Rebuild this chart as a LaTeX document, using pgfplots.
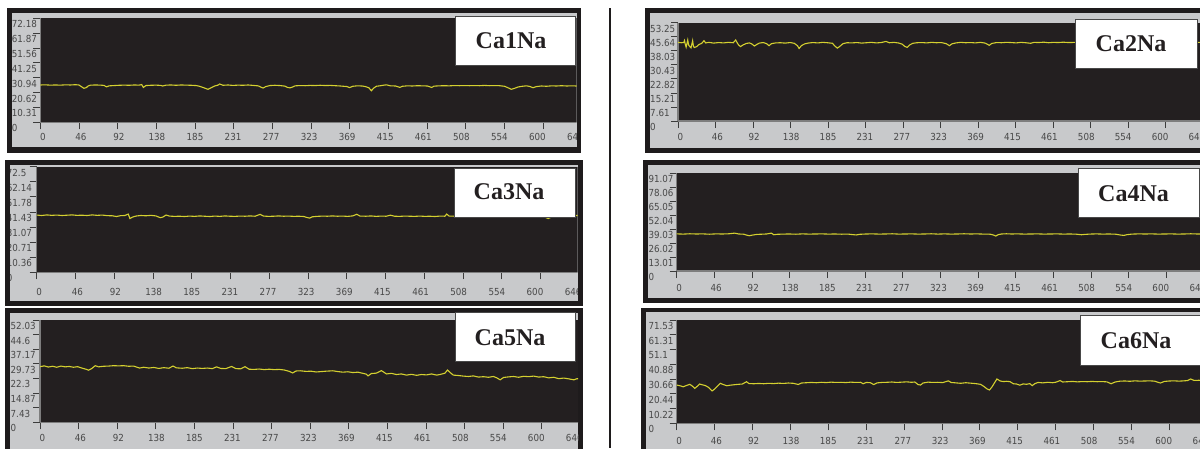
\documentclass[border=0pt]{standalone}
\usepackage{pgfplots}
\pgfplotsset{compat=1.18}
\usepackage{fontspec}
\newfontfamily\tickfont{DejaVu Sans Condensed}
\newfontfamily\labfont{Liberation Serif}
\definecolor{framec}{RGB}{30,27,28}
\definecolor{panelgray}{RGB}{200,201,203}
\definecolor{plotbg}{RGB}{35,31,32}
\definecolor{ylw}{RGB}{212,208,48}
\definecolor{labc}{RGB}{72,72,72}
\definecolor{tickc}{RGB}{60,60,60}
\definecolor{axgray}{RGB}{125,125,125}
\pgfplotsset{
  panel/.style={
    scale only axis, anchor=south west,
    xmin=0, xmax=660, ymin=0,
    axis x line=bottom, axis y line=left,
    axis line style={-, draw=axgray, line width=1.2pt},
    axis background/.style={fill=plotbg},
    tick style={draw=tickc, line width=0.8pt},
    tick align=outside, major tick length=7pt,
    xtick={0,46.14,92.29,138.43,184.57,230.71,276.86,323,369.14,415.29,461.43,507.57,553.71,599.86,646},
    xticklabels={{},{},{},{},{},{},{},{},{},{},{},{},{},{},{}},
    extra x ticks={3,48.4,93.8,139.2,184.6,230,275.4,320.8,366.2,411.6,457,502.4,547.8,593.2,638.6},
    extra x tick labels={0,46,92,138,185,231,277,323,369,415,461,508,554,600,646},
    extra x tick style={major tick length=0pt},
    xticklabel style={font=\tickfont\fontsize{9.7}{10}\selectfont, text=labc, anchor=north, inner sep=0pt},
    yticklabel style={font=\tickfont\fontsize{9.7}{10}\selectfont, text=labc, anchor=west, inner sep=0pt, yshift=-6pt},
  },
  sig/.style={draw=ylw, line width=1.1pt, mark=none},
}
\newcommand{\frameit}[8]{%
  \fill[framec] (#1pt,-#2pt) rectangle (#3pt,-#4pt);
  \fill[panelgray] (#5pt,-#6pt) rectangle (#7pt,-#8pt);}
\newcommand{\labbox}[7]{%
  \draw[draw=labc, fill=white, line width=0.8pt] (#1pt,-#2pt) rectangle (#3pt,-#4pt);
  \node[font=\labfont\bfseries\fontsize{24}{26}\selectfont, text=plotbg, inner sep=0pt] at (#5pt,-#6pt) {#7};}
\begin{document}
\begin{tikzpicture}
\path[use as bounding box] (0pt,0pt) rectangle (1200pt,-448pt);
\clip (0pt,0pt) rectangle (1200pt,-448pt);
% separator
\fill[framec] (609pt,-8pt) rectangle (611pt,-448pt);
% ---------------- Panel 1 ----------------
\frameit{7}{8}{580.5}{152.5}{12}{13.3}{576.7}{147.3}
\begin{scope}
\clip (12pt,-13.3pt) rectangle (576.7pt,-147.3pt);
\begin{axis}[panel, at={(40.3pt,-122.3pt)}, width=553.1pt, height=104pt,
  ymax=72.18, ytick={0,10.31,20.62,30.94,41.25,51.56,61.87,72.18},
  yticklabels={0,10.31,20.62,30.94,41.25,51.56,61.87,72.18},
  yticklabel style={xshift=-21.6pt}, xticklabel style={yshift=-11.2pt}]
\addplot[sig] coordinates {(0,25.9)(6,26.0)(12,25.8)(18,25.9)(24,25.8)(30,26.0)(36,25.9)(42,26.1)(46,25.9)(49,24.8)(52,23.6)(55,24.1)(57,25.2)(60,25.8)(66,25.9)(72,25.8)(76,25.6)(79,24.6)(82,25.3)(88,25.5)(94,25.7)(100,25.8)(106,25.7)(112,25.9)(118,25.8)(121,26.2)(123,24.2)(126,25.5)(132,25.7)(138,25.8)(144,25.6)(146,25.2)(150,25.8)(156,25.9)(162,25.7)(168,25.9)(174,25.8)(180,25.7)(186,25.5)(190,25.0)(195,24.0)(200,22.9)(204,24.0)(208,25.2)(212,25.8)(214,26.6)(218,25.7)(224,25.9)(230,25.6)(236,25.8)(242,25.7)(248,25.9)(254,25.6)(260,25.3)(264,24.2)(266,23.8)(269,24.8)(274,25.5)(280,25.7)(286,25.5)(292,25.1)(295,24.2)(298,23.9)(301,24.5)(304,25.3)(310,25.5)(316,25.4)(322,25.6)(328,25.5)(334,25.7)(340,25.5)(346,25.6)(352,25.4)(358,25.2)(366,24.8)(369,24.1)(373,25.0)(378,25.3)(384,25.2)(388,24.8)(392,24.0)(395,21.9)(398,23.8)(401,25.0)(406,25.4)(410,25.8)(413,26.0)(418,25.3)(424,25.2)(429,24.2)(432,25.0)(438,25.3)(444,25.2)(450,25.4)(456,25.3)(462,25.2)(467,24.2)(470,25.1)(476,25.3)(482,25.4)(488,25.3)(494,25.5)(500,25.4)(506,25.5)(512,25.4)(518,25.5)(524,25.4)(530,25.6)(536,25.4)(542,25.5)(548,25.4)(554,25.0)(558,24.0)(562,22.9)(566,23.6)(570,24.5)(575,25.0)(580,25.3)(584,24.9)(588,24.0)(592,24.8)(598,25.2)(604,25.0)(610,25.3)(616,25.2)(622,25.4)(628,25.2)(634,25.3)(640,25.2)(646,25.3)(655,25.2)};
\end{axis}
\end{scope}
\labbox{455}{16}{575}{65}{511}{40.5}{Ca1Na}
% ---------------- Panel 2 ----------------
\frameit{645}{8}{1210}{153}{650}{13.3}{1210}{147.7}
\begin{scope}
\clip (650pt,-13.3pt) rectangle (1210pt,-147.7pt);
\begin{axis}[panel, at={(678pt,-121pt)}, width=536.4pt, height=98.3pt,
  ymax=53.25, ytick={0,7.61,15.21,22.82,30.43,38.03,45.64,53.25},
  yticklabels={0,7.61,15.21,22.82,30.43,38.03,45.64,53.25},
  yticklabel style={xshift=-21pt}, xticklabel style={yshift=-12.2pt}]
\addplot[sig] coordinates {(0,42.6)(4,42.4)(7,42.5)(8,43.6)(9,41.5)(10,40.0)(12,43.9)(13,41.2)(14,40.6)(16,39.6)(18,43.5)(19,40.5)(20,39.8)(23,40.3)(26,41.5)(29,42.0)(32,43.5)(34,42.3)(38,42.6)(44,42.2)(50,42.5)(56,42.3)(62,42.6)(68,42.4)(71,43.9)(73,42.2)(75,41.0)(77,40.3)(80,41.2)(84,42.0)(88,42.3)(91,41.7)(94,40.6)(97,41.5)(100,42.2)(105,42.5)(109,41.9)(112,40.8)(115,41.9)(120,42.3)(126,42.4)(132,42.2)(138,42.5)(143,42.1)(147,40.8)(149,39.3)(152,40.9)(156,41.8)(160,42.2)(166,42.5)(172,42.3)(178,42.6)(184,42.4)(190,42.1)(193,40.6)(196,39.5)(199,40.4)(203,41.9)(208,42.4)(214,42.3)(220,42.5)(226,42.2)(232,42.4)(238,42.6)(244,42.3)(250,42.5)(256,43.1)(260,42.4)(266,42.6)(272,42.2)(276,41.6)(279,40.4)(282,39.9)(285,41.2)(289,42.1)(294,42.4)(300,42.5)(306,42.3)(312,42.6)(318,42.4)(324,42.5)(330,41.9)(334,40.8)(337,41.8)(342,42.3)(348,42.6)(354,42.4)(360,42.5)(366,42.3)(372,42.6)(378,42.2)(383,41.0)(386,42.0)(392,42.5)(398,42.4)(404,42.6)(410,42.5)(416,42.3)(422,42.6)(428,42.4)(434,42.1)(438,42.6)(444,42.5)(450,42.7)(456,42.4)(462,42.6)(468,42.5)(474,42.7)(480,42.5)(490,42.6)(500,42.5)(520,42.6)(540,42.5)(560,42.6)(580,42.4)(600,42.6)(620,42.5)(640,42.6)(655,42.5)};
\end{axis}
\end{scope}
\labbox{1075}{19}{1197}{68}{1131}{43.7}{Ca2Na}
% ---------------- Panel 3 ----------------
\frameit{5}{160}{582.7}{306.3}{10}{165}{577.7}{301}
\begin{scope}
\clip (10pt,-165pt) rectangle (577.7pt,-301pt);
\begin{axis}[panel, at={(36.7pt,-272.3pt)}, width=554.4pt, height=105.6pt,
  ymax=72.5, ytick={0,10.36,20.71,31.07,41.43,51.78,62.14,72.5},
  yticklabels={0,10.36,20.71,31.07,41.43,51.78,62.14,72.5},
  yticklabel style={xshift=-23pt}, xticklabel style={yshift=-15.5pt}]
\addplot[sig] coordinates {(0,39.3)(6,39.0)(12,39.4)(18,39.1)(24,39.3)(30,39.0)(36,39.2)(42,39.4)(48,39.1)(54,39.2)(60,39.0)(66,39.4)(72,39.1)(78,39.3)(84,38.9)(90,38.8)(95,38.3)(100,38.9)(105,39.0)(109,40.0)(111,36.9)(114,37.9)(118,38.6)(124,39.0)(130,38.8)(136,39.1)(142,38.7)(147,37.5)(150,37.9)(154,39.3)(158,38.6)(164,38.4)(170,38.5)(176,38.3)(182,38.6)(188,38.4)(194,38.7)(200,38.5)(206,38.3)(212,38.6)(218,38.4)(224,38.7)(230,38.5)(236,38.4)(242,38.6)(248,38.5)(254,38.7)(260,38.5)(266,39.8)(270,38.6)(276,38.4)(282,38.5)(288,38.7)(294,38.5)(300,38.6)(306,38.4)(312,38.5)(318,38.3)(322,37.6)(325,37.2)(328,38.1)(334,38.4)(340,38.6)(346,38.5)(352,38.7)(358,38.5)(364,38.6)(370,38.4)(376,38.7)(381,39.8)(385,38.6)(392,38.5)(398,38.7)(404,38.4)(410,38.6)(416,38.5)(421,39.2)(426,38.5)(432,38.4)(438,38.6)(444,38.5)(450,38.4)(456,38.6)(462,38.4)(468,38.5)(474,38.3)(480,38.6)(486,38.5)(488,40.0)(491,38.6)(498,38.5)(504,38.4)(512,38.6)(520,38.5)(528,38.4)(536,38.6)(544,38.5)(552,38.4)(560,38.6)(568,38.5)(576,38.6)(584,38.4)(592,38.5)(600,38.3)(606,37.6)(609,36.9)(612,37.7)(618,38.4)(626,38.7)(634,38.8)(642,39.0)(650,39.0)};
\end{axis}
\end{scope}
\labbox{454}{168}{575}{217}{509}{192}{Ca3Na}
% ---------------- Panel 4 ----------------
\frameit{642.7}{159.7}{1210}{303}{647.7}{165}{1210}{298.3}
\begin{scope}
\clip (647.7pt,-165pt) rectangle (1210pt,-298.3pt);
\begin{axis}[panel, at={(676.7pt,-271pt)}, width=538.6pt, height=97.7pt,
  ymax=91.07, ytick={0,13.01,26.02,39.03,52.04,65.05,78.06,91.07},
  yticklabels={0,13.01,26.02,39.03,52.04,65.05,78.06,91.07},
  yticklabel style={xshift=-21.4pt}, xticklabel style={yshift=-13.2pt}]
\addplot[sig] coordinates {(0,34.6)(8,34.4)(16,34.7)(24,34.5)(32,34.6)(40,34.3)(48,34.6)(56,34.5)(64,34.7)(71,35.3)(76,34.5)(82,34.3)(86,33.4)(89,32.9)(93,33.5)(98,34.1)(104,34.3)(110,34.5)(116,35.3)(119,33.8)(123,34.2)(130,34.4)(138,34.5)(146,34.3)(154,34.6)(162,34.4)(170,34.5)(178,34.6)(186,34.4)(194,34.5)(202,34.3)(210,34.4)(216,33.9)(220,33.6)(224,34.2)(232,34.5)(240,34.6)(248,34.4)(256,34.5)(264,34.7)(272,34.4)(280,34.5)(288,34.6)(296,34.4)(304,34.5)(312,34.7)(320,34.4)(328,34.6)(336,34.4)(344,34.5)(352,34.7)(360,34.5)(368,34.6)(376,34.4)(384,34.3)(388,33.6)(391,32.6)(394,33.9)(398,34.5)(404,34.7)(410,34.5)(418,34.6)(426,34.4)(434,34.5)(442,34.6)(450,34.4)(458,34.5)(466,34.6)(474,34.4)(482,34.5)(490,34.3)(496,33.8)(500,34.1)(506,34.4)(514,34.6)(522,34.4)(530,34.5)(538,34.3)(544,33.5)(548,33.2)(552,33.9)(558,34.4)(566,34.6)(574,34.5)(582,34.6)(590,34.4)(598,34.5)(606,34.6)(614,34.4)(622,34.5)(630,34.7)(638,34.5)(646,34.6)(652,34.5)};
\end{axis}
\end{scope}
\labbox{1078}{168}{1199}{217}{1133.5}{194}{Ca4Na}
% ---------------- Panel 5 ----------------
\frameit{5}{307.5}{582.7}{460}{10}{313}{578}{460}
\begin{scope}
\clip (10pt,-313pt) rectangle (578pt,-460pt);
\begin{axis}[panel, at={(40pt,-422.3pt)}, width=552.2pt, height=102.3pt,
  ymax=52.03, ytick={0,7.43,14.87,22.3,29.73,37.17,44.6,52.03},
  yticklabels={0,7.43,14.87,22.3,29.73,37.17,44.6,52.03},
  yticklabel style={xshift=-22.5pt}, xticklabel style={yshift=-12.2pt}]
\addplot[sig] coordinates {(0,28.3)(5,28.7)(10,28.1)(15,28.5)(20,28.0)(25,28.6)(30,28.2)(35,28.4)(40,28.0)(45,28.3)(50,27.6)(55,27.0)(58,26.5)(62,27.4)(66,28.8)(70,28.2)(76,28.5)(82,28.6)(88,28.8)(94,28.7)(100,28.8)(106,28.5)(112,28.6)(119,27.6)(124,28.0)(130,27.6)(136,27.9)(142,27.4)(148,27.8)(154,27.5)(159,28.6)(163,27.7)(170,27.5)(176,27.8)(182,27.3)(188,27.6)(194,27.4)(200,27.6)(206,27.3)(211,28.2)(216,27.4)(222,27.3)(229,28.4)(234,27.3)(240,27.2)(245,28.3)(250,27.0)(256,26.9)(262,27.1)(268,26.8)(274,27.0)(280,26.8)(286,26.9)(292,26.6)(298,25.9)(302,25.1)(306,26.1)(311,26.2)(318,25.9)(324,26.0)(330,25.6)(336,25.8)(342,26.0)(350,26.2)(356,25.8)(362,25.5)(368,25.7)(374,25.3)(380,25.5)(386,24.9)(390,24.5)(392,23.6)(396,24.8)(402,25.0)(408,26.3)(412,25.2)(414,24.6)(420,24.9)(426,24.3)(432,24.6)(438,24.0)(444,24.4)(450,23.9)(456,24.3)(462,24.1)(468,24.6)(474,24.0)(478,24.3)(484,25.0)(487,26.6)(490,25.4)(494,24.0)(500,23.8)(506,23.5)(512,23.3)(518,23.6)(524,23.0)(530,23.2)(536,22.9)(542,23.3)(546,22.6)(550,21.6)(554,22.8)(560,23.1)(566,23.3)(572,22.9)(578,23.4)(584,23.2)(590,23.5)(596,23.0)(602,23.2)(608,22.6)(614,22.9)(620,22.2)(626,22.5)(632,22.1)(638,21.6)(642,22.2)(648,21.8)};
\end{axis}
\end{scope}
\labbox{455}{312}{575}{361}{510}{337.5}{Ca5Na}
% ---------------- Panel 6 ----------------
\frameit{640.7}{307.7}{1210}{460}{646}{312.3}{1210}{460}
\begin{scope}
\clip (646pt,-312.3pt) rectangle (1210pt,-460pt);
\begin{axis}[panel, at={(676.7pt,-423.3pt)}, width=541.9pt, height=103.3pt,
  ymax=71.53, ytick={0,10.22,20.44,30.66,40.88,51.1,61.31,71.53},
  yticklabels={0,10.22,20.44,30.66,40.88,51.1,61.31,71.53},
  yticklabel style={xshift=-21.4pt}, xticklabel style={yshift=-13.5pt}]
\addplot[sig] coordinates {(0,26.5)(4,26.0)(8,25.3)(12,26.2)(16,27.0)(19,25.8)(22,24.2)(25,25.6)(28,27.2)(31,26.7)(35,26.1)(39,24.8)(43,22.4)(46,23.6)(49,25.4)(53,27.7)(57,26.8)(61,26.0)(65,26.4)(70,26.7)(75,27.0)(80,27.2)(85,28.8)(88,27.5)(94,27.4)(100,27.6)(106,27.4)(112,27.7)(118,27.5)(124,27.8)(130,27.6)(136,27.9)(142,27.7)(148,26.9)(152,27.9)(158,28.1)(164,28.3)(170,28.1)(176,28.4)(182,28.2)(188,28.5)(194,28.3)(200,28.4)(206,28.2)(212,28.5)(218,28.3)(224,28.4)(227,27.4)(231,28.3)(236,28.1)(240,26.8)(244,28.0)(250,28.3)(256,28.4)(262,28.6)(268,28.3)(274,28.5)(280,28.7)(286,28.4)(290,28.6)(294,26.8)(297,26.5)(300,27.9)(306,28.5)(312,28.3)(318,28.4)(324,28.2)(331,29.4)(334,28.3)(340,28.0)(346,27.7)(352,28.1)(358,27.8)(364,27.5)(370,27.0)(374,25.6)(378,23.8)(381,23.1)(384,25.2)(387,28.0)(390,30.7)(394,29.3)(398,28.9)(402,29.1)(406,28.8)(410,27.4)(414,27.2)(418,26.4)(422,27.3)(426,27.0)(430,27.5)(433,26.1)(436,27.4)(440,28.3)(446,28.0)(452,28.4)(458,28.1)(462,28.5)(467,29.6)(470,28.6)(476,28.8)(482,29.0)(488,28.7)(494,28.9)(500,28.8)(506,29.0)(512,28.8)(518,28.9)(524,28.7)(529,27.4)(534,28.6)(540,29.2)(546,29.3)(552,29.1)(558,29.4)(564,29.2)(570,29.3)(576,29.4)(582,29.2)(589,27.9)(594,29.0)(600,29.3)(606,29.4)(612,29.2)(618,29.4)(622,29.6)(626,30.7)(630,29.7)(636,29.8)(642,29.6)(648,29.9)};
\end{axis}
\end{scope}
\labbox{1080}{315}{1215}{365}{1136}{341}{Ca6Na}
\end{tikzpicture}
\end{document}
